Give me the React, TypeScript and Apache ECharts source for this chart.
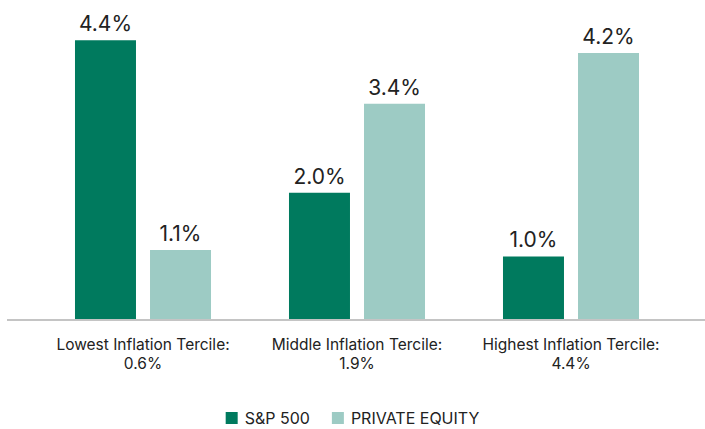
import React, { useEffect, useRef } from "react";
import * as echarts from "echarts";

const categories = ["Lowest Inflation Tercile:\n0.6%", "Middle Inflation Tercile:\n1.9%", "Highest Inflation Tercile:\n4.4%"];
const sp500 = [4.4, 2.0, 1.0];
const privateEquity = [1.1, 3.4, 4.2];
const seriesNames = ["S&P 500", "PRIVATE EQUITY"];
const colors = ["#007A5E", "#9DCBC4"];

export default function App() {
  const ref = useRef<HTMLDivElement>(null);
  useEffect(() => {
    const chart = echarts.init(ref.current!, null, { renderer: "svg" });
    const font = "Inter, 'Noto Sans', sans-serif";
    const label = {
      show: true,
      position: "top",
      distance: 6,
      fontSize: 21,
      color: "#222",
      fontFamily: font,
      formatter: (p: any) => p.value.toFixed(1) + "%",
    };
    chart.setOption({
      animation: false,
      grid: { left: 36, right: 27, top: 2, bottom: 109, containLabel: false },
      legend: {
        bottom: 3,
        padding: 0,
        left: "center",
        itemWidth: 12,
        itemHeight: 12,
        itemGap: 22,
        icon: "rect",
        textStyle: { fontSize: 16, color: "#222", fontFamily: font, padding: [0, 0, 0, 2] },
        data: seriesNames,
      },
      xAxis: {
        type: "category",
        data: categories,
        axisLine: { show: false },
        axisTick: { show: false },
        axisLabel: {
          interval: 0,
          hideOverlap: false,
          fontSize: 15.5,
          color: "#222",
          fontFamily: font,
          lineHeight: 19,
          margin: 15,
        },
      },
      yAxis: {
        type: "value",
        min: 0,
        max: 5,
        show: false,
      },
      graphic: [
        {
          type: "line",
          shape: { x1: 7, y1: 320, x2: 705, y2: 320 },
          style: { stroke: "#C4C4C4", lineWidth: 2 },
          z: 10,
        },
      ],
      series: [
        {
          name: seriesNames[0],
          type: "bar",
          data: sp500,
          barWidth: 61,
          barGap: "23%",
          itemStyle: { color: colors[0] },
          label,
        },
        {
          name: seriesNames[1],
          type: "bar",
          data: privateEquity,
          barWidth: 61,
          itemStyle: { color: colors[1] },
          label,
        },
      ],
    });
    return () => chart.dispose();
  }, []);
  return <div ref={ref} style={{ width: 705, height: 429, position: "absolute", left: 0, top: 0 }} />;
}
